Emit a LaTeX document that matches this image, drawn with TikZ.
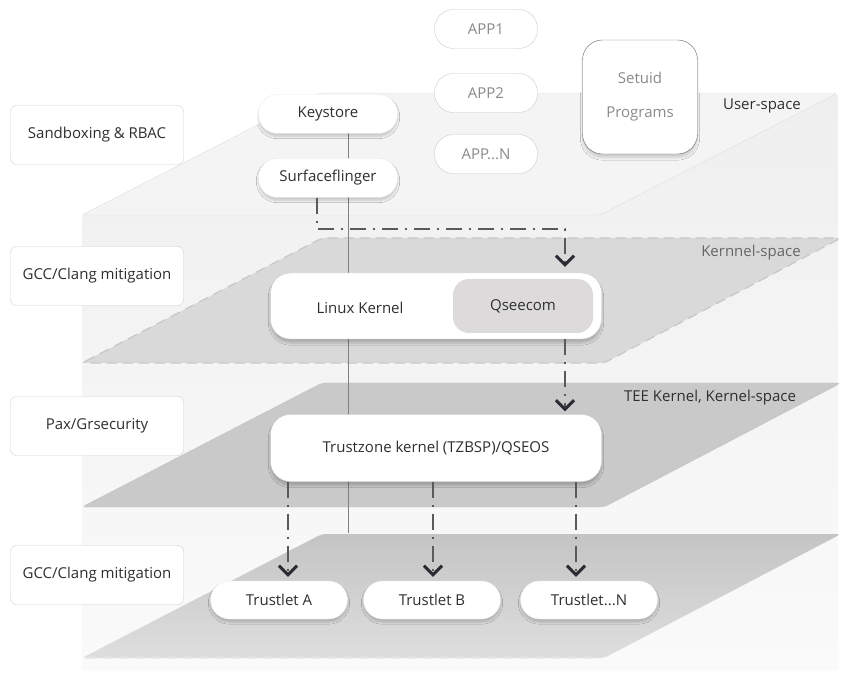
\documentclass[tikz,border=0pt]{standalone}
\usepackage{fontspec}
\setmainfont{Open Sans}
\usetikzlibrary{calc,arrows.meta,shadows,shadows.blur}
\definecolor{txtdark}{HTML}{2F2F33}
\definecolor{txtgray}{HTML}{8A8A8E}
\definecolor{boxline}{HTML}{CFCFCF}
\definecolor{appline}{HTML}{C8CCD6}
\definecolor{arrowdark}{HTML}{2A2B33}
\definecolor{linkgray}{HTML}{5A5A5A}
\definecolor{bgtop}{HTML}{EFEFEF}
\definecolor{bgbot}{HTML}{FAFAFA}
\definecolor{userfill}{HTML}{F4F4F4}
\definecolor{kfill}{HTML}{D9D9D9}
\definecolor{teefill}{HTML}{C9C9C9}
\definecolor{tlfill}{HTML}{C4C4C4}
\definecolor{qseefill}{HTML}{DCDADB}
\tikzset{
	txt/.style={font=\fontsize{15}{18}\selectfont, text=txtdark},
	sidebox/.style={txt, draw=boxline, fill=white, rounded corners=6pt, minimum width=173pt, minimum height=59pt},
	pill/.style={txt, draw=black!8, fill=white, rounded corners=19pt, minimum width=139pt, minimum height=39pt,
		blur shadow={shadow xshift=0pt, shadow yshift=-3pt, shadow opacity=18, shadow blur steps=6}},
	apppill/.style={txt, text=txtgray, draw=appline, fill=white, rounded corners=19pt, minimum width=103pt, minimum height=39pt},
	bigbox/.style={txt, draw=black!18, fill=white, rounded corners=20pt, minimum width=331pt, minimum height=66pt,
		blur shadow={shadow xshift=0pt, shadow yshift=-4pt, shadow opacity=20, shadow blur steps=6}},
	planelabel/.style={txt},
	dashlink/.style={draw=linkgray, line width=1.1pt, dash pattern=on 16pt off 7pt on 2pt off 7pt,
		-{Straight Barb[length=9pt, width=18pt, line width=3pt, color=arrowdark]}},
	spine/.style={draw=black!50, line width=0.9pt},
}

\begin{document}
\begin{tikzpicture}[x=1pt,y=-1pt]
		%%%%% START %%%%%
		\useasboundingbox (0,0) rectangle (854,684);
		
		\shade[top color=bgtop, bottom color=bgbot] (82,215) -- (320,95) -- (838,95) -- (838,670) -- (82,670) -- cycle;
		
		% layers
		\draw[draw=black!13, fill=userfill, rounded corners=4pt] (82,215) -- (320,93) -- (838,93) -- (600,215) -- cycle;
		\draw[draw=black!22, fill=kfill, line width=1.2pt, dash pattern=on 10pt off 6pt, rounded corners=4pt] (82,363) -- (322,238) -- (841,238) -- (604,363) -- cycle;
		\draw[draw=black!24, fill=teefill, rounded corners=4pt] (82,507) -- (322,383) -- (841,383) -- (604,507) -- cycle;
		\shade[top color=tlfill, bottom color=black!13, rounded corners=4pt] (82,658) -- (322,534) -- (841,534) -- (604,658) -- cycle;
		\draw[draw=black!9, line width=1.2pt, dash pattern=on 10pt off 6pt] (86,658) -- (600,658);
		
		\node[planelabel] (userlbl) at (762,106) {User-space};
		\node[planelabel, text=black!60] (kernlbl) at (751,253) {Kernnel-space};
		\node[planelabel] (teelbl) at (710,398) {TEE Kernel, Kernel-space};
		
		\coordinate (spinetop) at (348,133);
		\coordinate (spineend) at (348,533);
		\draw[spine] (spinetop) -- (spineend);
		
		\node[sidebox] (sandbox) at (97,135) {Sandboxing \& RBAC};
		\node[sidebox] (gccone) at (97,276) {GCC/Clang mitigation};
		\node[sidebox] (pax) at (97,426) {Pax/Grsecurity};
		\node[sidebox] (gcctwo) at (97,575) {GCC/Clang mitigation};
		
		\node[apppill] (appone) at (486,29) {APP1};
		\node[apppill] (apptwo) at (486,93) {APP2};
		\node[apppill] (appn) at (486,154) {APP...N};
		\node[txt, text=txtgray, align=center, draw=black!60, fill=white, rounded corners=20pt, minimum width=115pt, minimum height=114pt,
			blur shadow={shadow xshift=0pt, shadow yshift=-4pt, shadow opacity=15, shadow blur steps=6}] (setuid) at (640,97) {Setuid\\[16pt]Programs};
		
		\node[pill] (keystore) at (328,114) {Keystore};
		\node[pill] (surface) at (328,178) {Surfaceflinger};
		
		\node[bigbox] (lk) at (436,306) {};
		\node[txt, fill=qseefill, rounded corners=16pt, minimum width=140pt, minimum height=54pt] (qsee) at (523,306) {Qseecom};
		\node[txt] (lktxt) at (360,308) {Linux Kernel};
		
		\node[bigbox, minimum height=67pt] (tz) at (436,448) {Trustzone kernel (TZBSP)/QSEOS};
		
		\node[pill, minimum width=137pt, minimum height=38pt] (tla) at (279,600) {Trustlet A};
		\node[pill, minimum width=137pt, minimum height=38pt] (tlb) at (432,600) {Trustlet B};
		\node[pill, minimum width=137pt, minimum height=38pt] (tln) at (589,600) {Trustlet...N};
		
		% links
		\coordinate (bend) at (565,229);
		\draw[dashlink, shorten >=6pt] ([xshift=-11pt]surface.south) |- (bend) -- (bend |- lk.north);
		\draw[dashlink, shorten >=3pt] (bend |- lk.south) -- (bend |- tz.north);
		\foreach \t/\dx in {tla/9,tlb/1,tln/-13}
			\draw[dashlink, shorten >=4pt] ($(tz.south -| \t.north)+(\dx,0)$) -- ($(\t.north)+(\dx,0)$);
		
		%%%%% END %%%%%
	\end{tikzpicture}
\end{document}
